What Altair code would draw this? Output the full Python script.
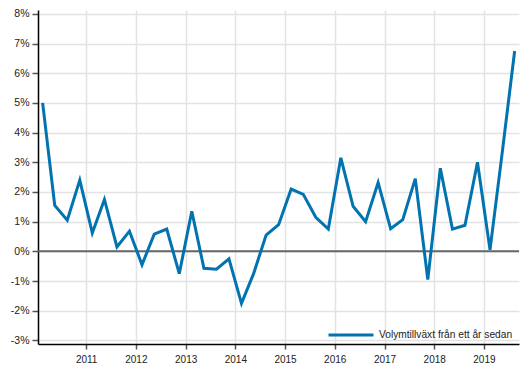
import altair as alt
import pandas as pd

# Quarterly observations 2010Q1 .. 2019Q3 (plotted at mid-quarter)
quarters = [f"{y}Q{q}" for y in range(2010, 2020) for q in range(1, 5)][:39]
values = [5.0, 1.55, 1.05, 2.4, 0.62, 1.75, 0.15, 0.68, -0.45, 0.58,
          0.75, -0.75, 1.35, -0.57, -0.6, -0.25, -1.75, -0.75, 0.55, 0.9,
          2.1, 1.92, 1.15, 0.75, 3.15, 1.52, 1.0, 2.32, 0.76, 1.07,
          2.45, -0.95, 2.8, 0.75, 0.88, 3.0, 0.05, 3.3, 6.75]
series_name = "Volymtillväxt från ett år sedan"
year_ticks = list(range(2011, 2020))
y_ticks = list(range(-3, 9))

mid_month = {"1": "02-15", "2": "05-15", "3": "08-15", "4": "11-15"}
dates = [f"{q[:4]}-{mid_month[q[-1]]}" for q in quarters]

df = pd.DataFrame({"date": dates, "value": values, "series": series_name})

FONT = "Liberation Sans"

y_enc = alt.Y(
    "value:Q",
    scale=alt.Scale(domain=[-3.12, 8.13], nice=False, zero=False),
    axis=alt.Axis(values=y_ticks, labelExpr="datum.value + '%'", title=None,
                  tickSize=6, labelPadding=3, labelOverlap=False, labelFlush=False,
                  labelFontSize=10.5),
)

line = alt.Chart(df).mark_line(strokeWidth=3).encode(
    x=alt.X(
        "date:T",
        scale=alt.Scale(
            type="utc",
            domain=[alt.DateTime(year=2010, month=1, date=12, utc=True),
                    alt.DateTime(year=2019, month=9, date=16, utc=True)],
        ),
        axis=alt.Axis(
            values=[alt.DateTime(year=y, month=1, date=1, utc=True) for y in year_ticks],
            format="%Y", title=None, labelPadding=5, tickSize=5,
            labelOverlap=False, labelFlush=False, labelFontSize=10,
        ),
    ),
    y=y_enc,
    color=alt.Color(
        "series:N",
        scale=alt.Scale(range=["#0073B0"]),
        legend=alt.Legend(
            title=None, orient="none", legendX=289, legendY=301,
            symbolType="stroke", symbolSize=2025, symbolStrokeWidth=3,
            labelFont=FONT, labelFontSize=10.2, labelColor="#222",
            labelOffset=4,
        ),
    ),
)

zero = alt.Chart(pd.DataFrame({"value": [0]})).mark_rule(color="#666666", strokeWidth=2).encode(
    y=y_enc
)

chart = alt.layer(zero, line).properties(
    width=481, height=334,
    autosize=alt.AutoSizeParams(type="none"),
    padding={"left": 38, "top": 10, "right": 10, "bottom": 34},
).configure_view(stroke=None).configure_axis(
    labelFont=FONT, labelColor="#222",
    domainColor="#000", domainWidth=1.5,
    tickColor="#555", tickWidth=1.5,
    gridColor="#e3e3e3", gridWidth=1.5,
)

chart.save("out.html", embed_options={"renderer": "svg", "actions": False})
